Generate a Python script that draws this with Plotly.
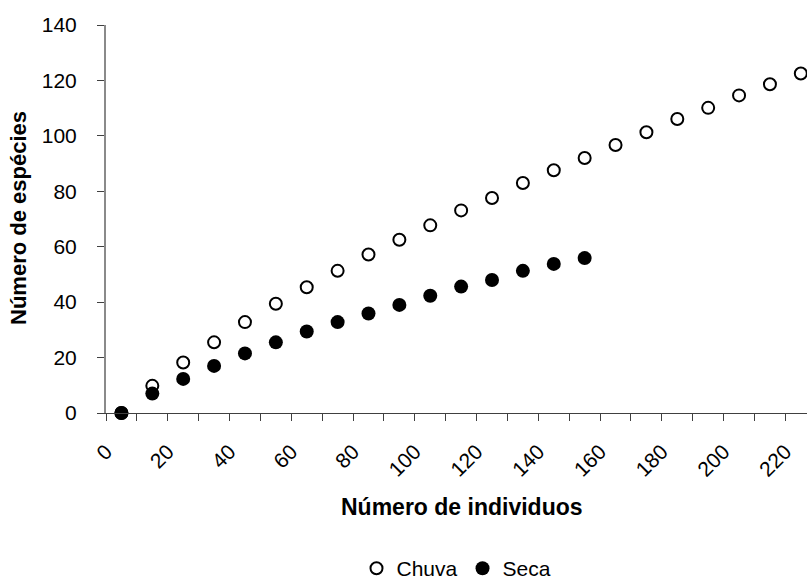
import plotly.graph_objects as go

individuos_chuva = [5, 15, 25, 35, 45, 55, 65, 75, 85, 95, 105, 115, 125, 135, 145, 155,
                    165, 175, 185, 195, 205, 215, 225]
especies_chuva = [0, 9.8, 18.2, 25.5, 32.8, 39.4, 45.4, 51.3, 57.2, 62.5, 67.7, 73.1,
                  77.6, 83.0, 87.6, 92.0, 96.7, 101.3, 106.1, 110.1, 114.6, 118.6, 122.5]
individuos_seca = [5, 15, 25, 35, 45, 55, 65, 75, 85, 95, 105, 115, 125, 135, 145, 155]
especies_seca = [0, 7.0, 12.3, 17.0, 21.5, 25.5, 29.4, 32.8, 35.9, 39.0, 42.3, 45.6,
                 48.0, 51.3, 53.8, 55.9]
x_tickvals = list(range(0, 230, 10))
x_ticktext = [str(v) if v % 20 == 0 else "" for v in x_tickvals]
y_tickvals = [0, 20, 40, 60, 80, 100, 120, 140]

FONT = "Liberation Sans, Arial, sans-serif"

fig = go.Figure()
fig.add_trace(go.Scatter(
    x=individuos_chuva, y=especies_chuva, mode="markers", name="Chuva",
    marker=dict(symbol="circle", size=12, color="white",
                line=dict(color="black", width=2)),
    cliponaxis=False,
))
fig.add_trace(go.Scatter(
    x=individuos_seca, y=especies_seca, mode="markers", name="Seca",
    marker=dict(symbol="circle", size=14, color="black",
                line=dict(color="black", width=0)),
    cliponaxis=False,
))

fig.update_layout(
    width=807, height=585,
    margin=dict(l=105.5, r=0, t=24.5, b=172.3),
    paper_bgcolor="white", plot_bgcolor="white",
    font=dict(family=FONT, size=21, color="black"),
    showlegend=True,
    legend=dict(orientation="h", x=0.5, xanchor="center", yref="container",
                y=0.028, yanchor="middle", font=dict(size=21),
                itemwidth=30, traceorder="normal"),
    xaxis=dict(range=[0, 227.0], tickmode="array", tickvals=x_tickvals,
               ticktext=x_ticktext, tickangle=-45, ticks="outside", ticklen=7,
               tickcolor="#404040", tickwidth=1.3, showline=True,
               linecolor="#404040", linewidth=1.3, showgrid=False,
               zeroline=False, tickfont=dict(size=21), ticklabelstandoff=10),
    yaxis=dict(range=[0, 140], tickmode="array", tickvals=y_tickvals,
               ticks="outside", ticklen=7, tickcolor="#404040", tickwidth=1.3,
               showline=True, linecolor="#8a8a8a", linewidth=2, showgrid=False,
               zeroline=False, tickfont=dict(size=21), ticklabelstandoff=16),
    annotations=[
        dict(text="<b>Número de individuos</b>", xref="paper", yref="paper",
             x=(462 - 105.5) / 701.5, y=-(507 - 412.7) / 388.2,
             xanchor="center", yanchor="middle", showarrow=False,
             font=dict(size=23)),
        dict(text="<b>Número de espécies</b>", xref="paper", yref="paper",
             x=-(105.5 - 18) / 701.5, y=(412.7 - 218) / 388.2,
             xanchor="center", yanchor="middle", textangle=-90,
             showarrow=False, font=dict(size=22)),
    ],
)

fig.write_html("out.html")
